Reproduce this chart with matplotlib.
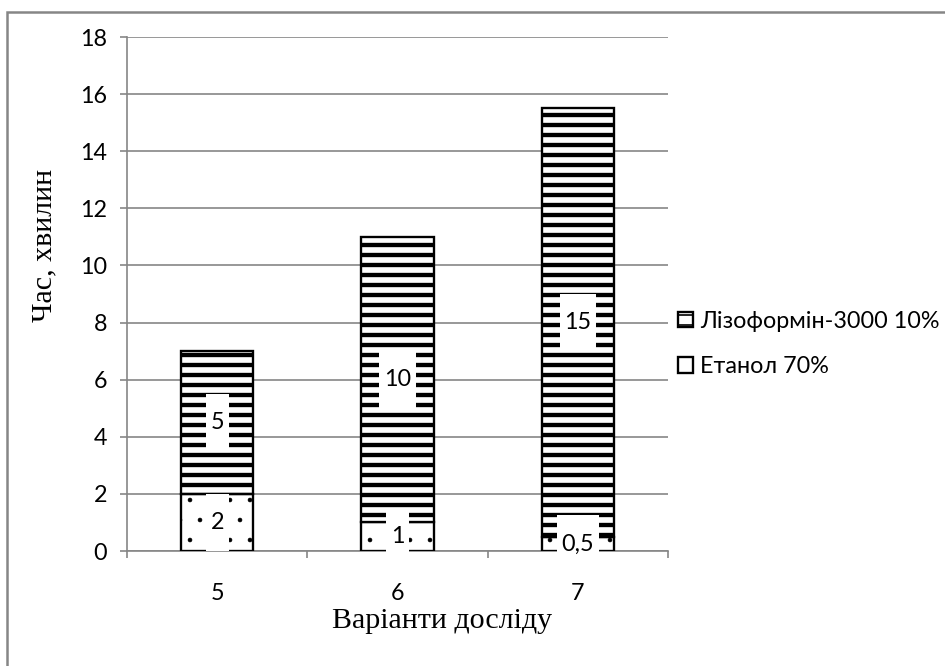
import matplotlib
matplotlib.use("Agg")
import matplotlib.pyplot as plt
from matplotlib.patches import Rectangle
import numpy as np

categories = ["5", "6", "7"]
etanol = [2, 1, 0.5]
lizoformin = [5, 10, 15]
etanol_labels = ["2", "1", "0,5"]
lizoformin_labels = ["5", "10", "15"]
series_names = ["Лізоформін-3000 10%", "Етанол 70%"]
y_ticks = [0, 2, 4, 6, 8, 10, 12, 14, 16, 18]
y_label = "Час, хвилин"
x_label = "Варіанти досліду"

DPI = 120
PX = 72 / DPI
plt.rcParams['font.family'] = ['Lato', 'DejaVu Sans']
plt.rcParams['hatch.color'] = 'black'

fig = plt.figure(figsize=(945 / DPI, 666 / DPI), dpi=DPI)
ax = fig.add_axes([127 / 945, 115 / 666, 541 / 945, 514 / 666])

grey = '#868686'
x = np.arange(len(categories))
w = 0.4

with plt.rc_context({'hatch.linewidth': 0.3}):
    b1 = ax.bar(x, etanol, w, color='white', edgecolor='black', linewidth=1.4,
                hatch='.', zorder=3)
with plt.rc_context({'hatch.linewidth': 2.6}):
    b2 = ax.bar(x, lizoformin, w, bottom=etanol, color='white', edgecolor='black',
                linewidth=1.4, hatch='--', zorder=3)
for p in b1:
    if hasattr(p, 'set_hatch_linewidth'):
        p.set_hatch_linewidth(0.3)
for p in b2:
    if hasattr(p, 'set_hatch_linewidth'):
        p.set_hatch_linewidth(2.6)

fs = 14
for i in range(len(categories)):
    ax.text(x[i], etanol[i] / 2, "\n" + etanol_labels[i] + "\n", ha='center', va='center',
            fontsize=fs, linespacing=0.55, zorder=5,
            bbox=dict(boxstyle='square,pad=0.2', facecolor='white', edgecolor='none'))
    ax.text(x[i], etanol[i] + lizoformin[i] / 2, "\n" + lizoformin_labels[i] + "\n",
            ha='center', va='center', fontsize=fs, linespacing=0.55, zorder=5,
            bbox=dict(boxstyle='square,pad=0.2', facecolor='white', edgecolor='none'))

ax.set_xlim(-0.5, len(categories) - 0.5)
ax.set_ylim(0, 18)
ax.set_yticks(y_ticks)
ax.set_xticks(x)
ax.set_xticklabels(categories)
ax.set_xticks(np.arange(-0.5, len(categories), 1.0), minor=True)
ax.tick_params(axis='x', which='major', length=0, labelsize=fs, pad=32 * PX)
ax.tick_params(axis='x', which='minor', length=7 * PX, color=grey, width=1, direction='out')
ax.tick_params(axis='y', length=7 * PX, color=grey, width=1, labelsize=fs, pad=13 * PX)

ax.grid(axis='y', color=grey, linewidth=1, zorder=0)
ax.set_axisbelow(True)
for s in ['top', 'right']:
    ax.spines[s].set_visible(False)
for s in ['left', 'bottom']:
    ax.spines[s].set_color(grey)
    ax.spines[s].set_linewidth(1)

serif = ['Liberation Serif', 'DejaVu Serif']
fig.text(44 / 945, 1 - 245 / 666, y_label, rotation=90, ha='center', va='center',
         fontsize=18, family=serif)
fig.text(332 / 945, 1 - 628 / 666, x_label, ha='left', va='baseline',
         fontsize=18, family=serif)

with plt.rc_context({'hatch.linewidth': 2.6}):
    h1 = Rectangle((0, 0), 1, 1, facecolor='white', edgecolor='black', hatch='--', linewidth=1.4)
h2 = Rectangle((0, 0), 1, 1, facecolor='white', edgecolor='black', linewidth=1.4)
leg = fig.legend([h1, h2], series_names, loc='center left',
                 bbox_to_anchor=(678 / 945, 1 - 344 / 666), frameon=False, fontsize=fs,
                 handlelength=0.65, handleheight=0.65, handletextpad=0.3, labelspacing=1.05,
                 borderaxespad=0, borderpad=0)

fig.patches.append(Rectangle((7 / 945, -0.1), 1.2, 1 - 12 / 666 + 0.1, transform=fig.transFigure,
                             fill=False, edgecolor=grey, linewidth=1.5))

fig.savefig("out.png", dpi=DPI)
